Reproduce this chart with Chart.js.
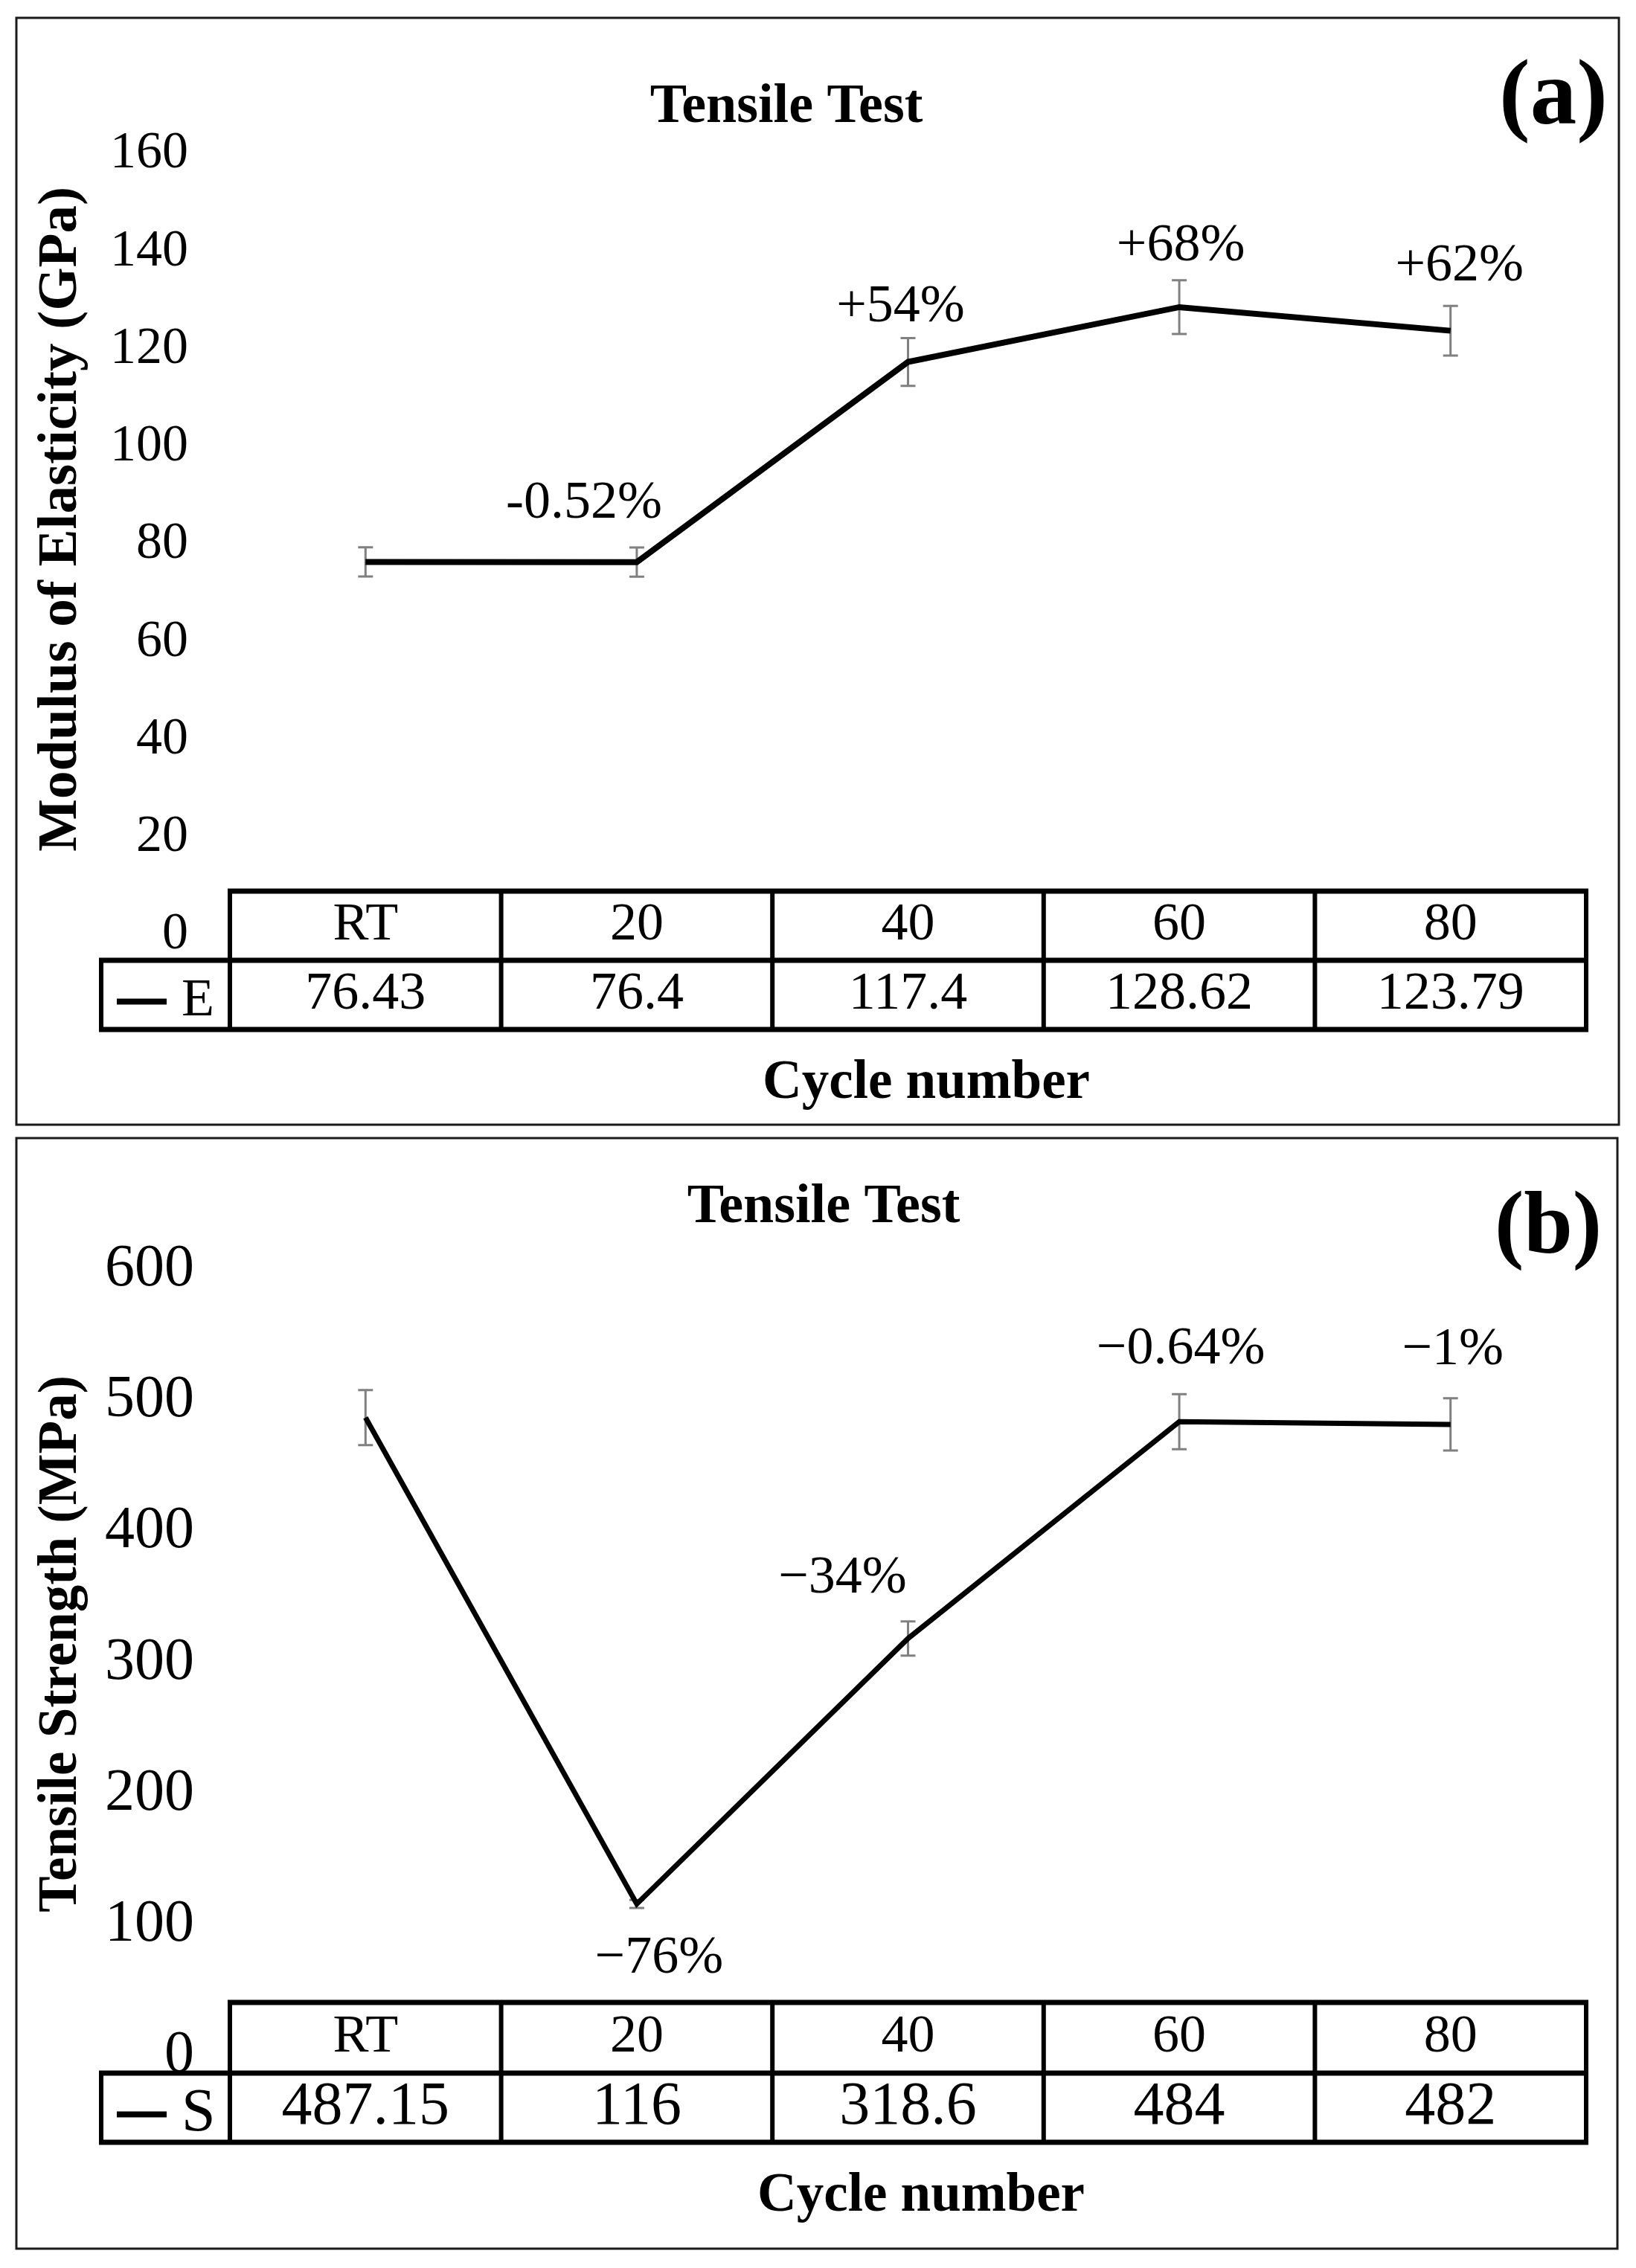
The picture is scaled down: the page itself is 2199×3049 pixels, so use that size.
<!DOCTYPE html>
<html>
<head>
<meta charset="utf-8">
<title>Tensile Test</title>
<script src="https://cdn.jsdelivr.net/npm/chart.js@4.4.1/dist/chart.umd.min.js"></script>
<style>
  html, body { margin: 0; padding: 0; background: #fff; }
  body { width: 2199px; height: 3049px; position: relative; overflow: hidden; }
  canvas { position: absolute; left: 0; }
  #modulusChart { top: 0; }
  #strengthChart { top: 1520px; }
</style>
</head>
<body>
<canvas id="modulusChart" width="2199" height="1520"></canvas>
<canvas id="strengthChart" width="2199" height="1529"></canvas>
<script>
// data
const categories = ['RT', '20', '40', '60', '80'];

const modulusValues = [76.43, 76.4, 117.4, 128.62, 123.79];
const modulusErrors = [3, 3, 4.9, 5.5, 5.1];
const modulusChanges = ['', '-0.52%', '+54%', '+68%', '+62%'];

const strengthValues = [487.15, 116, 318.6, 484, 482];
const strengthErrors = [21, 3, 13, 21, 20];
const strengthChanges = ['', '\u221276%', '\u221234%', '\u22120.64%', '\u22121%'];

// min, max, step of the value axis
const modulusAxis = [0, 160, 20];
const strengthAxis = [0, 600, 100];

const SERIF = '"Liberation Serif", "Times New Roman", serif';

function drawText(ctx, str, x, y, font, align, baseline) {
  ctx.save();
  ctx.font = font;
  ctx.fillStyle = '#000';
  ctx.textAlign = align || 'center';
  ctx.textBaseline = baseline || 'alphabetic';
  ctx.fillText(str, x, y);
  ctx.restore();
}

// frame, titles, error bars, change labels and the data table under the plot
function makeExtras(cfg) {
  return {
    id: 'extras' + cfg.key,
    beforeDraw(chart) {
      const ctx = chart.ctx;
      const f = cfg.frame;
      ctx.save();
      ctx.fillStyle = '#fff';
      ctx.fillRect(0, 0, chart.width, chart.height);
      ctx.strokeStyle = '#1a1a1a';
      ctx.lineWidth = 3;
      ctx.strokeRect(f[0], f[1], f[2] - f[0], f[3] - f[1]);
      ctx.restore();
    },
    beforeDatasetsDraw(chart) {
      const ctx = chart.ctx;
      const xs = chart.scales.x, ys = chart.scales.y;
      ctx.save();
      ctx.strokeStyle = '#808080';
      ctx.lineWidth = 3;
      cfg.values.forEach((v, i) => {
        const x = xs.getPixelForValue(i);
        const top = ys.getPixelForValue(v + cfg.errors[i]);
        const bot = ys.getPixelForValue(v - cfg.errors[i]);
        ctx.beginPath();
        ctx.moveTo(x, top); ctx.lineTo(x, bot);
        ctx.moveTo(x - 10, top); ctx.lineTo(x + 10, top);
        ctx.moveTo(x - 10, bot); ctx.lineTo(x + 10, bot);
        ctx.stroke();
      });
      ctx.restore();
    },
    afterDraw(chart) {
      const ctx = chart.ctx;
      const xs = chart.scales.x, ys = chart.scales.y;

      // titles
      drawText(ctx, 'Tensile Test', cfg.title.x, cfg.title.y, 'bold ' + cfg.title.size + 'px ' + SERIF);
      drawText(ctx, cfg.panel.text, cfg.panel.x, cfg.panel.y, 'bold ' + cfg.panel.size + 'px ' + SERIF);
      drawText(ctx, 'Cycle number', cfg.xTitle.x, cfg.xTitle.y, 'bold ' + cfg.xTitle.size + 'px ' + SERIF);
      ctx.save();
      ctx.translate(cfg.yTitle.x, cfg.yTitle.y);
      ctx.rotate(-Math.PI / 2);
      drawText(ctx, cfg.yTitle.text, 0, 0, 'bold ' + cfg.yTitle.size + 'px ' + SERIF);
      ctx.restore();

      // change labels next to the points
      cfg.changes.forEach((txt, i) => {
        if (!txt) return;
        const s = cfg.shifts[i];
        const x = xs.getPixelForValue(i) + s[0];
        const y = ys.getPixelForValue(cfg.values[i]) + s[1];
        drawText(ctx, txt, x, y, '72px ' + SERIF, 'center', 'middle');
      });

      // data table
      const t = cfg.table;
      const n = categories.length;
      const step = xs.getPixelForValue(1) - xs.getPixelForValue(0);
      const edges = categories.map((c, i) => xs.getPixelForValue(i) - step / 2);
      edges.push(xs.getPixelForValue(n - 1) + step / 2);
      const right = edges[n];
      const hw = 7, vw = 6;
      ctx.save();
      ctx.fillStyle = '#000';
      ctx.fillRect(edges[0] - vw / 2, t.top - hw / 2, right - edges[0] + vw, hw);
      ctx.fillRect(t.legendLeft - vw / 2, t.mid - hw / 2, right - t.legendLeft + vw, hw);
      ctx.fillRect(t.legendLeft - vw / 2, t.bottom - hw / 2, right - t.legendLeft + vw, hw);
      edges.forEach(x => ctx.fillRect(x - vw / 2, t.top, vw, t.bottom - t.top));
      ctx.fillRect(t.legendLeft - vw / 2, t.mid, vw, t.bottom - t.mid);
      ctx.restore();

      const headY = (t.top + t.mid) / 2;
      const valY = (t.mid + t.bottom) / 2;
      categories.forEach((c, i) => {
        const x = xs.getPixelForValue(i);
        drawText(ctx, c, x, headY, t.headSize + 'px ' + SERIF, 'center', 'middle');
        drawText(ctx, String(cfg.values[i]), x, valY, t.valueSize + 'px ' + SERIF, 'center', 'middle');
      });

      // legend key in the first column
      const ds = chart.data.datasets[0];
      ctx.save();
      ctx.strokeStyle = ds.borderColor;
      ctx.lineWidth = 8;
      ctx.beginPath();
      ctx.moveTo(t.legendLeft + 21, valY + 9);
      ctx.lineTo(t.legendLeft + 88, valY + 9);
      ctx.stroke();
      ctx.restore();
      drawText(ctx, ds.label, t.legendLeft + 108, valY + 9, t.valueSize + 'px ' + SERIF, 'left', 'middle');
    }
  };
}

function buildChart(id, values, axis, cfg) {
  return new Chart(document.getElementById(id), {
    type: 'line',
    data: {
      labels: categories,
      datasets: [{
        label: cfg.key,
        data: values,
        borderColor: '#000',
        borderWidth: cfg.lineWidth,
        borderJoinStyle: 'miter',
        pointRadius: 0,
        tension: 0
      }]
    },
    options: {
      responsive: false,
      animation: false,
      devicePixelRatio: 1,
      layout: { padding: cfg.padding },
      plugins: {
        legend: { display: false },
        tooltip: { enabled: false },
        title: { display: false }
      },
      scales: {
        x: { type: 'category', display: false, offset: true },
        y: {
          min: axis[0],
          max: axis[1],
          afterFit(scale) { scale.width = cfg.axisWidth; },
          grid: { display: false, drawTicks: false },
          border: { display: false },
          ticks: {
            stepSize: axis[2],
            padding: cfg.tickPad,
            color: '#000',
            font: { family: SERIF, size: cfg.tickSize }
          }
        }
      }
    },
    plugins: [makeExtras(Object.assign({ values: values }, cfg))]
  });
}

buildChart('modulusChart', modulusValues, modulusAxis, {
  key: 'E',
  errors: modulusErrors,
  changes: modulusChanges,
  shifts: [null, [-71, -79], [-10, -73], [2, -82], [12, -87]],
  lineWidth: 8,
  padding: { left: 0, right: 67, top: 207, bottom: 263 },
  axisWidth: 309,
  tickPad: 56,
  tickSize: 70,
  frame: [22, 24, 2176, 1512],
  title: { x: 1057, y: 164, size: 74 },
  panel: { text: '(a)', x: 2088, y: 166, size: 125 },
  yTitle: { text: 'Modulus of Elasticity (GPa)', x: 102, y: 698, size: 75 },
  xTitle: { x: 1245, y: 1476, size: 73 },
  table: { top: 1198, mid: 1291, bottom: 1384, legendLeft: 136, headSize: 72, valueSize: 72 }
});

buildChart('strengthChart', strengthValues, strengthAxis, {
  key: 'S',
  errors: strengthErrors,
  changes: strengthChanges,
  shifts: [null, [30, 73], [-88, -81], [2, -97], [3, -100]],
  lineWidth: 7,
  padding: { left: 0, right: 67, top: 187, bottom: 285 },
  axisWidth: 309,
  tickPad: 48,
  tickSize: 80,
  frame: [22, 10, 2174, 1503],
  title: { x: 1107, y: 123, size: 74 },
  panel: { text: '(b)', x: 2081, y: 163, size: 118 },
  yTitle: { text: 'Tensile Strength (MPa)', x: 102, y: 690, size: 73 },
  xTitle: { x: 1238, y: 1452, size: 73 },
  table: { top: 1172, mid: 1267, bottom: 1360, legendLeft: 136, headSize: 72, valueSize: 82 }
});
</script>
</body>
</html>
